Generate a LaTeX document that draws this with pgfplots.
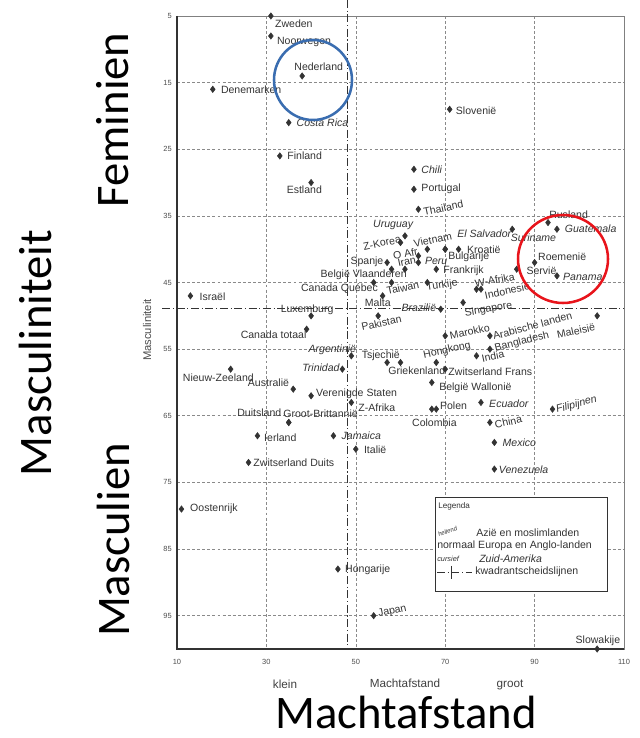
\documentclass[border=0pt]{standalone}
\usepackage{pgfplots}
\pgfplotsset{compat=1.18}
\usepackage{pgfplotstable}
\usepackage{fontspec}
\setmainfont{Liberation Sans}
\newfontfamily\calibri{Carlito}

\definecolor{inkt}{HTML}{333333}
\definecolor{rooster}{HTML}{8A8A8A}
\definecolor{cirkelblauw}{HTML}{3A6DB0}
\definecolor{cirkelrood}{HTML}{E8141B}

\newcommand\lblfont{\fontsize{7.9}{9}\selectfont}

% PDI (machtafstand), MAS (masculiniteit), label offset in px (dx right, dy down), anchor, rotation
\pgfplotstableread[col sep=comma]{
x,y,dx,dy,anc,rot,label
31,5,4,7.6,west,0,Zweden
31,8,6,5.7,west,0,Noorwegen
38,14,-8,-9.3,west,0,Nederland
18,16,8,0,west,0,Denemarken
33,26,7.3,0,west,0,Finland
40,30,-24.6,6.7,west,0,Estland
71,19,6,1,west,0,Slovenië
63,31,7.3,0,west,0,Portugal
64,34,5,3,west,12,Thailand
93,36,1,-8,west,0,Rusland
60,39,-37.4,4.5,west,12,Z-Korea
64,41,-25.4,0,west,10,O Afr
57,42,-3.5,-1,east,0,Spanje
58,43,6,-6,west,12,Iran
70,40,-31.5,-5.5,west,12,Vietnam
70,40,2.8,7.2,west,0,Bulgarije
73,40,8.3,0.5,west,0,Kroatië
68,43,6.8,2,west,0,Frankrijk
61,43,2,5.3,east,0,België Vlaanderen
54,45,4.4,6.3,east,0,Canada Québec
58,45,-5,8.7,west,12,Taiwan
66,45,-1,5.3,west,8,Turkije
56,47,-18,6.4,west,0,Malta
55,50,-16.7,11.4,west,12,Pakistan
74,48,1.6,11.4,west,10,Singapore
77,46,-1.8,-5.6,west,10,W-Afrika
78,46,3.7,6.3,west,12,Indonesië
86,43,9.6,2,west,0,Servië
90,42,3.3,-6,west,0,Roemenië
104,50,-2,11,east,12,Maleisië
70,53,4.5,0,west,12,Marokko
80,53,3,0.5,west,15,Arabische landen
80,55,4.8,-0.5,west,14,Bangladesh
77,56,5,3,west,12,India
68,57,-13,-7,west,12,Hongkong
70,58,3,3,west,0,Zwitserland Frans
60,57,-12.4,8.2,west,0,Griekenland
57,57,-25.6,-6.8,west,0,Tsjechië
22,58,-48,8.2,west,0,Nieuw-Zeeland
36,61,-4,-6.7,east,0,Australië
40,62,4.8,-2.4,west,0,Verenigde Staten
39,52,0,5.7,east,0,Canada totaal
40,50,-4,-6.3,center,0,Luxemburg
13,47,9,0.7,west,0,Israël
49,63,6.8,5.6,west,0,Z-Afrika
67,60,7.2,5.6,west,0,België Wallonië
68,64,3.5,-3.4,west,0,Polen
67,64,2.6,14,center,0,Colombia
80,66,4.75,2.4,west,12,China
35,66,-7.2,-9.3,east,0,Duitsland
35,66,-5.6,-8.3,west,0,Groot-Brittannië
28,68,6.5,2.4,west,0,Ierland
50,70,8,0.8,west,0,Italië
26,72,4.7,0.5,west,0,Zwitserland Duits
11,79,8.5,0,west,0,Oostenrijk
46,88,7,0.5,west,0,Hongarije
54,95,4.4,-1.2,west,12,Japan
104,100,0.7,-8.7,center,0,Slowakije
}\rechtop

% Zuid-Amerika: cursief
\pgfplotstableread[col sep=comma]{
x,y,dx,dy,anc,rot,label
35,21,7.7,0,west,0,Costa Rica
63,28,7.3,0,west,0,Chili
95,37,7.7,0,west,0,Guatemala
85,37,-1.6,9,west,0,Suriname
61,38,-32,-10.5,west,0,Uruguay
66,40,29.7,-15.5,west,0,El Salvador
64,42,6.4,-1.4,west,0,Peru
69,49,-4.3,-1.3,east,0,Brazilië
95,44,6,1.3,west,0,Panama
49,56,5,-6,east,0,Argentinië
47,58,-2.6,-1.7,east,0,Trinidad
45,68,8,0.4,west,0,Jamaica
78,63,8,1.6,west,0,Ecuador
81,69,8,0.7,west,0,Mexico
81,73,4.3,1.1,west,0,Venezuela
94,64,3.7,1,west,15,Filipijnen
}\cursief

\tikzset{
  lblr/.style={inner sep=0pt, text=inkt, font=\lblfont},
  lbli/.style={inner sep=0pt, text=inkt, font=\lblfont\itshape},
  qlijn/.style={black!80, line width=0.9pt,
    dash pattern=on 6pt off 2pt on 0.8pt off 2pt},
}

% namen bij de punten: #1 tabel, #2 stijl
\newcommand\tekenlabels[2]{%
  \pgfplotstablegetrowsof{#1}%
  \pgfmathtruncatemacro\laatste{\pgfplotsretval-1}%
  \pgfplotsinvokeforeach{0,...,\laatste}{%
    \pgfplotstablegetelem{##1}{x}\of{#1}\let\px\pgfplotsretval
    \pgfplotstablegetelem{##1}{y}\of{#1}\let\py\pgfplotsretval
    \pgfplotstablegetelem{##1}{dx}\of{#1}\let\pdx\pgfplotsretval
    \pgfplotstablegetelem{##1}{dy}\of{#1}\let\pdy\pgfplotsretval
    \pgfplotstablegetelem{##1}{anc}\of{#1}\let\panc\pgfplotsretval
    \pgfplotstablegetelem{##1}{rot}\of{#1}\let\prot\pgfplotsretval
    \pgfplotstablegetelem{##1}{label}\of{#1}\let\plab\pgfplotsretval
    \edef\temp{\noexpand\node[#2, anchor=\panc,
        xshift={0.75pt*(\pdx)}, yshift={0.75pt*(0-(\pdy))}, rotate=\prot]
        at (axis cs:\px,\py) {\plab};}%
    \temp
  }%
}

\begin{document}
\begin{tikzpicture}
\begin{axis}[
  name=ax, at={(0,0)}, anchor=south west,
  scale only axis, width=335.25pt, height=474.75pt,
  xmin=10, xmax=110, ymin=5, ymax=100, y dir=reverse,
  xtick={10,30,...,110}, ytick={5,15,...,95},
  grid=major,
  grid style={rooster, line width=0.45pt, dash pattern=on 2.2pt off 1.6pt},
  major tick length=0pt,
  axis line style={draw=black!50, line width=0.6pt},
  tick label style={font=\fontsize{5.6}{6}\selectfont, text=black!70, inner sep=0pt},
  xticklabel style={yshift=-7.5pt},
  yticklabel style={xshift=-3.8pt},
  /pgf/number format/assume math mode=true,
  clip=false,
]
% kwadrantscheidslijnen
\addplot[qlijn] coordinates {(48.2,2.6) (48.2,100)};
\addplot[qlijn] coordinates {(6.7,48.9) (110,48.9)};

\addplot[only marks, mark=diamond*, mark size=2.4pt, color=inkt] table[x=x, y=y] {\rechtop};
\addplot[only marks, mark=diamond*, mark size=2.4pt, color=inkt] table[x=x, y=y] {\cursief};

\tekenlabels{\rechtop}{lblr}
\tekenlabels{\cursief}{lbli}
\end{axis}

% annotaties in pixelcoordinaten van het origineel
\begin{scope}[shift={(ax.south west)}, xshift=-132.75pt, yshift=486.75pt,
              x=0.75pt, y=-0.75pt]
  \draw[black!80, line width=0.9pt] (177,16) -- (177,649) -- (624,649);

  \node[font=\fontsize{8.8}{10}\selectfont, text=black!75] at (285,684) {klein};
  \node[font=\fontsize{8.8}{10}\selectfont, text=black!75] at (405,683) {Machtafstand};
  \node[font=\fontsize{8.8}{10}\selectfont, text=black!75] at (510,685) {groot};
  \node[rotate=90, font=\fontsize{8.4}{10}\selectfont, text=black!70] at (147,330) {Masculiniteit};

  % legenda
  \draw[fill=white, draw=black!80, line width=0.7pt] (435,497) rectangle (607,591);
  \node[anchor=west, inner sep=0pt, text=inkt, font=\fontsize{6.1}{7}\selectfont] at (438,506) {Legenda};
  \node[anchor=west, inner sep=0pt, rotate=20, text=inkt, font=\fontsize{4.6}{5}\selectfont\itshape] at (438,535) {hellend};
  \node[anchor=west, inner sep=0pt, text=inkt, font=\lblfont] at (476,533) {Azië en moslimlanden};
  \node[anchor=west, inner sep=0pt, text=inkt, font=\lblfont] at (437,546) {normaal Europa en Anglo-landen};
  \node[anchor=west, inner sep=0pt, text=inkt, font=\fontsize{5.5}{6}\selectfont\itshape] at (437,559) {cursief};
  \node[anchor=west, inner sep=0pt, text=inkt, font=\lblfont\itshape] at (479,559) {Zuid-Amerika};
  \draw[qlijn, line width=0.6pt] (437,572) -- (472,572);
  \draw[black!80, line width=0.6pt] (451,566) -- (451,579);
  \node[anchor=west, inner sep=0pt, text=inkt, font=\lblfont] at (475,572) {kwadrantscheidslijnen};

  % cirkels
  \draw[cirkelblauw, line width=1.9pt] (313,80) circle[x radius=39, y radius=40];
  \draw[cirkelrood, line width=1.9pt] (563,259) circle[x radius=45, y radius=44];

  % grote overlay-teksten
  \node[rotate=90, font=\calibri\fontsize{35}{40}\selectfont] at (113,120) {Feminien};
  \node[rotate=90, font=\calibri\fontsize{35}{40}\selectfont] at (113,540) {Masculien};
  \node[rotate=90, font=\calibri\fontsize{35}{40}\selectfont] at (35,353) {Masculiniteit};
  \node[font=\calibri\fontsize{35}{40}\selectfont] at (406,712) {Machtafstand};

  \pgfresetboundingbox
  \path[use as bounding box] (0,0) rectangle (639,738);
\end{scope}
\end{tikzpicture}
\end{document}
